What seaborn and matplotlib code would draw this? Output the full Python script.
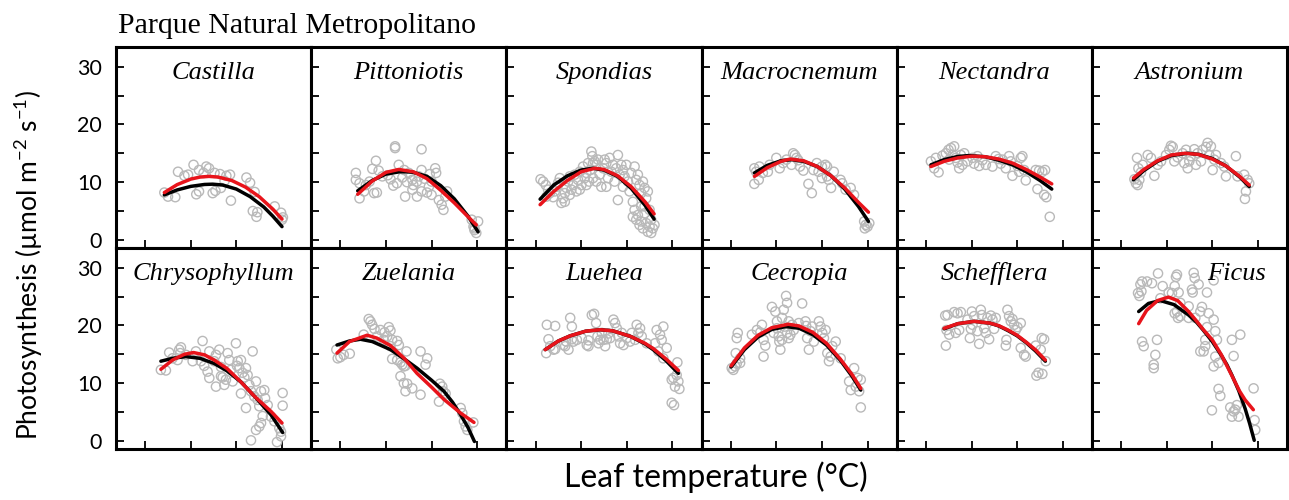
import matplotlib
matplotlib.use("Agg")
import matplotlib.pyplot as plt
import seaborn as sns

# ---------------------------------------------------------------- data
# Leaf temperature (degC) and net photosynthesis (umol m-2 s-1) per genus,
# plus two fitted response curves (black and red) for each.

castilla_t = [27.1, 27.5, 28.3, 28.6, 29.3, 29.7, 30.3, 30.6, 30.9, 30.9, 31.7, 32.0, 32.4, 32.7, 32.6, 33.2,
              33.3, 33.9, 34.3, 34.4, 36.1, 36.5, 37.0, 36.8, 37.2, 37.3, 39.2, 39.9, 40.0, 40.1, 31.4, 33.7]
castilla_a = [8.2, 7.5, 7.4, 11.8, 11.1, 11.3, 13.0, 7.9, 8.4, 12.1, 12.7, 12.4, 8.1, 8.5, 11.6, 11.4,
              9.0, 11.1, 11.3, 6.8, 10.8, 9.9, 8.3, 5.0, 4.0, 4.8, 5.8, 4.7, 3.5, 3.9, 11.6, 10.2]
castilla_bt = [27.1, 28.5, 30.0, 31.5, 32.4, 33.5, 35.0, 36.5, 38.0, 39.0, 40.0]
castilla_black = [7.8, 8.65, 9.27, 9.6, 9.65, 9.5, 8.8, 7.5, 5.7, 4.1, 2.3]
castilla_rt = [27.1, 28.5, 30.0, 31.0, 32.0, 33.0, 34.5, 36.0, 37.5, 39.0, 40.0]
castilla_red = [8.2, 9.57, 10.53, 10.88, 11.0, 10.88, 10.28, 9.14, 7.49, 5.32, 3.6]

pittoniotis_t = [26.7, 26.7, 27.1, 27.1, 27.6, 27.8, 28.2, 28.9, 28.5, 29.2, 29.0, 28.7, 31.0, 31.0, 31.4, 32.0,
                 32.5, 32.9, 33.0, 33.4, 33.6, 33.9, 33.9, 32.1, 33.4, 32.9, 33.9, 34.5, 34.7, 35.0, 35.4, 35.5,
                 35.0, 35.8, 36.1, 36.3, 36.5, 36.7, 39.4, 39.6, 39.7, 39.9, 40.1, 39.7, 30.5, 31.2, 31.8, 30.2,
                 32.3, 34.2, 34.8, 30.8, 29.6]
pittoniotis_a = [11.6, 10.4, 9.8, 7.2, 8.4, 9.5, 10.1, 13.7, 12.3, 12.0, 8.2, 8.1, 16.2, 15.9, 13.0, 12.1,
                 11.6, 10.4, 9.5, 10.1, 11.0, 12.1, 15.7, 7.5, 7.5, 8.7, 8.4, 8.2, 9.2, 7.8, 12.4, 11.6,
                 10.1, 6.9, 6.1, 5.2, 7.5, 8.4, 3.5, 2.3, 1.7, 1.2, 3.2, 2.0, 10.5, 9.8, 10.8, 11.2,
                 10.0, 10.6, 11.4, 9.4, 11.0]
pittoniotis_bt = [26.9, 28.5, 30.0, 31.5, 32.2, 33.0, 34.5, 36.0, 37.5, 39.0, 40.1]
pittoniotis_black = [8.5, 10.3, 11.4, 11.8, 11.8, 11.7, 11.0, 9.4, 7.1, 4.1, 1.4]
pittoniotis_rt = [26.9, 28.5, 30.0, 31.4, 33.0, 34.5, 36.0, 37.5, 39.0, 39.9]
pittoniotis_red = [7.9, 10.2, 11.7, 12.2, 11.8, 10.6, 8.6, 6.4, 4.0, 2.6]

spondias_t = [25.55, 25.84, 26.13, 26.38, 26.57, 26.20, 26.93, 27.11, 27.30, 27.48,
              27.66, 27.84, 28.02, 28.21, 28.39, 28.57, 28.75, 28.93, 29.12, 29.30,
              29.48, 29.66, 29.85, 30.03, 30.21, 30.39, 30.57, 30.76, 30.87, 31.01,
              31.12, 31.23, 31.30, 31.48, 31.67, 31.85, 32.03, 32.21, 32.40, 32.58,
              32.76, 32.94, 33.12, 33.31, 33.49, 33.67, 33.85, 34.03, 34.03, 34.22,
              34.40, 34.58, 34.76, 34.95, 35.13, 35.31, 35.49, 35.67, 35.86, 36.04,
              36.22, 36.40, 36.58, 36.77, 36.95, 37.13, 37.31, 35.67, 35.86, 36.04,
              36.22, 36.40, 36.58, 36.77, 36.95, 37.13, 37.31, 37.50, 37.68, 37.86,
              38.04, 37.68, 36.95, 36.58, 37.50, 31.30, 30.57, 29.85, 28.75, 28.21,
              32.76, 31.67, 34.58]
spondias_a = [10.5, 10.1, 9.5, 8.7, 8.1, 7.5, 7.4, 8.4, 9.2, 9.9,
              10.7, 6.4, 7.2, 8.1, 9.0, 10.1, 11.0, 8.7, 9.5, 11.3,
              8.4, 10.4, 11.8, 9.5, 12.7, 10.7, 11.6, 13.3, 10.1, 12.1,
              15.3, 14.5, 13.3, 13.6, 13.0, 13.9, 11.3, 9.2, 12.4, 13.9,
              13.3, 10.7, 14.2, 11.8, 13.0, 10.1, 12.4, 14.7, 6.9, 11.3,
              13.0, 12.1, 11.0, 13.0, 10.1, 8.4, 11.6, 6.6, 12.7, 10.4,
              11.3, 9.5, 8.1, 10.1, 9.0, 7.2, 8.4, 4.0, 5.2, 3.5,
              4.3, 2.6, 3.2, 2.0, 4.6, 2.9, 1.4, 2.3, 3.5, 2.0,
              2.6, 1.2, 5.8, 5.8, 5.2, 10.7, 9.5, 8.7, 7.8, 6.6,
              9.2, 10.1, 9.2]
spondias_bt = [25.5, 27.0, 28.5, 30.0, 31.3, 32.5, 34.0, 35.5, 37.0, 38.0]
spondias_black = [7.05, 9.5, 11.1, 12.1, 12.4, 12.1, 11.0, 8.9, 6.0, 3.6]
spondias_rt = [25.5, 27.0, 28.5, 30.0, 31.5, 32.5, 34.0, 35.5, 37.0, 38.0]
spondias_red = [6.1, 8.4, 10.3, 11.8, 12.4, 12.2, 11.1, 9.2, 6.6, 4.5]

macrocnemum_t = [27.59, 27.78, 28.15, 27.59, 28.07, 28.52, 29.07, 29.26, 30.0, 30.37,
                 30.74, 31.11, 31.67, 31.85, 32.04, 32.22, 32.41, 32.59, 32.96, 33.52,
                 33.89, 34.07, 34.44, 35.0, 35.37, 35.56, 35.74, 36.0, 36.30, 37.04,
                 37.22, 37.59, 38.15, 38.52, 39.63, 39.70, 39.81, 40.0, 40.19, 35.0,
                 34.63, 35.56]
macrocnemum_a = [12.4, 11.8, 12.7, 9.7, 10.4, 11.6, 11.8, 13.0, 14.2, 12.4,
                 13.3, 13.9, 13.0, 15.0, 14.7, 14.2, 13.8, 12.7, 12.0, 9.7,
                 8.1, 12.1, 13.3, 12.7, 13.0, 11.0, 10.4, 9.0, 11.8, 10.4,
                 9.8, 8.7, 9.0, 7.8, 3.2, 2.0, 2.6, 2.3, 2.9, 10.7,
                 11.8, 12.7]
macrocnemum_bt = [27.6, 29.0, 30.5, 31.7, 33.0, 34.5, 36.0, 37.5, 39.0, 40.1]
macrocnemum_black = [11.6, 12.9, 13.7, 13.9, 13.6, 12.7, 11.1, 8.8, 5.8, 3.2]
macrocnemum_rt = [27.6, 29.0, 30.5, 31.5, 33.0, 34.5, 36.0, 37.5, 39.0, 40.1]
macrocnemum_red = [11.0, 12.5, 13.6, 14.0, 13.7, 12.7, 11.1, 9.0, 6.5, 4.8]

nectandra_t = [25.55, 25.91, 26.09, 26.39, 26.82, 27.19, 27.48, 27.74, 27.92, 28.10,
               28.28, 28.47, 28.65, 28.83, 29.01, 30.11, 30.29, 30.66, 30.84, 31.57,
               32.66, 32.96, 33.21, 33.76, 34.12, 34.31, 34.49, 35.04, 35.40, 35.58,
               35.77, 35.95, 37.04, 37.23, 37.41, 37.77, 38.07, 37.96, 38.21, 38.58,
               29.56, 31.20, 32.30, 33.39, 35.22, 27.55, 29.20]
nectandra_a = [13.6, 12.4, 14.2, 11.7, 14.6, 15.0, 15.6, 15.9, 14.7, 16.2,
               14.2, 13.4, 12.4, 14.7, 13.0, 14.2, 13.2, 14.5, 12.8, 13.0,
               14.5, 14.0, 13.2, 12.4, 14.5, 13.6, 11.1, 12.8, 14.2, 14.5,
               12.1, 10.3, 12.1, 8.8, 12.0, 11.8, 12.1, 7.8, 7.4, 4.0,
               13.6, 13.8, 12.7, 13.9, 11.8, 13.9, 15.0]
nectandra_bt = [25.55, 27.0, 28.5, 29.7, 31.5, 33.0, 34.5, 36.0, 37.5, 38.8]
nectandra_black = [13.0, 13.9, 14.45, 14.6, 14.4, 13.8, 13.0, 11.8, 10.3, 8.8]
nectandra_rt = [25.55, 27.0, 28.5, 30.0, 31.5, 33.0, 34.5, 36.0, 37.5, 38.8]
nectandra_red = [12.7, 13.6, 14.2, 14.5, 14.4, 14.0, 13.3, 12.2, 10.9, 9.7]

astronium_t = [26.46, 26.64, 26.82, 27.0, 26.75, 26.90, 27.19, 27.37, 27.92, 28.28,
               28.65, 29.01, 29.38, 29.93, 30.29, 30.47, 30.66, 30.84, 31.20, 31.75,
               31.93, 32.12, 32.30, 32.48, 32.66, 33.03, 33.21, 33.39, 33.76, 33.94,
               34.31, 34.49, 34.67, 34.85, 35.04, 35.22, 35.40, 35.95, 36.31, 36.50,
               37.59, 37.77, 38.50, 38.69, 38.58, 38.87, 39.05]
astronium_a = [10.5, 9.8, 9.5, 10.4, 14.2, 12.4, 11.7, 13.0, 14.7, 14.2,
               11.1, 13.0, 13.6, 14.7, 15.6, 16.3, 16.1, 13.6, 14.3, 15.0,
               13.3, 15.6, 12.4, 13.6, 14.5, 15.7, 13.0, 15.0, 13.6, 15.6,
               16.1, 16.8, 14.7, 16.2, 12.1, 13.9, 14.7, 13.3, 12.7, 11.0,
               14.5, 11.0, 11.3, 8.4, 7.1, 10.4, 9.8]
astronium_bt = [26.35, 27.5, 29.0, 30.5, 32.3, 33.5, 35.0, 36.5, 38.0, 39.05]
astronium_black = [10.4, 12.0, 13.6, 14.6, 15.0, 14.8, 14.1, 12.8, 10.9, 9.25]
astronium_rt = [26.35, 27.5, 29.0, 30.5, 32.0, 33.5, 35.0, 36.5, 38.0, 39.05]
astronium_red = [10.7, 12.2, 13.7, 14.7, 15.0, 14.8, 14.0, 12.8, 11.0, 9.5]

chrysophyllum_t = [26.72, 27.27, 27.63, 28.0, 28.55, 28.73, 28.92, 28.84, 29.46, 30.20,
                   30.56, 31.29, 31.47, 31.84, 32.03, 32.03, 32.57, 32.76, 33.12, 33.31,
                   33.49, 33.67, 33.85, 34.04, 34.22, 34.40, 34.59, 34.95, 35.06, 35.14,
                   35.32, 35.50, 35.68, 35.87, 36.05, 36.23, 36.42, 35.50, 36.05, 36.60,
                   36.78, 36.96, 37.15, 37.33, 37.51, 37.70, 37.88, 37.70, 38.06, 38.14,
                   37.51, 37.15, 36.60, 38.43, 38.79, 39.16, 39.45, 39.89, 40.07, 40.07,
                   39.71, 39.89, 33.31, 31.11, 32.76]
chrysophyllum_a = [12.3, 12.2, 15.3, 14.3, 14.0, 15.8, 16.2, 15.2, 14.9, 13.8,
                   15.5, 17.3, 13.0, 12.0, 10.9, 15.5, 13.8, 14.9, 15.8, 12.8,
                   11.0, 9.7, 10.6, 15.2, 14.0, 12.3, 10.3, 16.9, 13.0, 13.8,
                   12.6, 14.0, 11.8, 11.0, 12.6, 11.4, 9.7, 8.2, 5.7, 8.6,
                   15.5, 7.7, 10.3, 7.1, 6.0, 8.6, 4.3, 3.1, 8.8, 7.4,
                   2.5, 1.9, 0.1, 6.2, 4.2, 3.4, -0.2, 1.6, 8.3, 6.1,
                   2.2, 0.8, 11.2, 13.8, 9.4]
chrysophyllum_bt = [26.72, 28.0, 29.46, 31.0, 32.57, 34.0, 35.5, 37.0, 38.8, 40.07]
chrysophyllum_black = [13.8, 14.3, 14.6, 14.3, 13.4, 12.1, 10.2, 7.7, 4.5, 1.45]
chrysophyllum_rt = [26.72, 28.0, 29.3, 30.3, 31.5, 32.57, 34.0, 35.5, 37.0, 38.8, 40.0]
chrysophyllum_red = [12.4, 14.0, 15.0, 15.3, 14.9, 14.0, 12.5, 10.2, 7.7, 5.1, 3.1]

zuelania_t = [24.56, 24.71, 25.0, 25.37, 26.03, 27.56, 28.11, 28.30, 28.48, 28.74,
              29.40, 29.84, 30.31, 30.49, 30.13, 30.68, 31.23, 31.41, 30.68, 31.23,
              31.59, 31.78, 31.96, 32.14, 32.25, 31.59, 31.96, 32.33, 32.14, 32.88,
              33.79, 33.79, 34.34, 34.52, 35.92, 36.17, 36.28, 36.54, 35.81, 38.19,
              38.37, 38.55, 38.74, 39.58, 38.92, 29.76, 29.03, 30.49]
zuelania_a = [15.8, 14.3, 14.5, 14.9, 15.1, 18.4, 21.1, 20.7, 20.1, 19.4,
              19.2, 18.8, 19.7, 19.1, 18.1, 17.5, 17.3, 16.6, 14.2, 14.0,
              13.6, 13.2, 12.9, 13.0, 15.5, 11.2, 10.0, 9.9, 8.6, 9.1,
              8.0, 15.5, 13.2, 14.3, 9.9, 9.4, 8.6, 8.2, 6.8, 5.7,
              4.8, 3.4, 2.5, 3.2, 1.9, 17.5, 18.1, 16.4]
zuelania_bt = [24.63, 26.0, 27.2, 28.5, 30.5, 32.0, 33.4, 35.0, 36.35, 37.3, 38.2, 39.0, 39.7]
zuelania_black = [16.6, 17.3, 17.6, 17.2, 15.8, 14.2, 12.6, 10.5, 8.6, 6.7, 4.5, 2.3, -0.1]
zuelania_rt = [24.63, 26.0, 27.93, 29.0, 30.5, 32.0, 33.4, 35.0, 36.35, 38.2, 39.65]
zuelania_red = [15.2, 17.2, 18.3, 17.8, 16.5, 14.3, 11.7, 9.3, 7.2, 4.8, 3.2]

luehea_t = [26.17, 26.24, 26.42, 26.61, 26.97, 27.15, 27.15, 28.07, 28.25, 28.36,
            28.61, 28.80, 28.98, 28.98, 29.16, 29.53, 30.07, 30.62, 30.80, 30.80,
            31.17, 31.42, 31.64, 31.79, 31.90, 32.08, 32.26, 32.45, 32.63, 32.81,
            32.99, 33.18, 33.54, 33.72, 33.91, 34.09, 34.27, 34.45, 34.64, 35.0,
            35.36, 35.55, 35.91, 36.09, 36.28, 36.46, 36.64, 38.10, 38.28, 38.47,
            38.65, 38.83, 39.01, 39.38, 39.93, 40.11, 40.29, 40.47, 40.55, 40.66,
            40.77, 39.93, 40.18, 39.01, 37.19]
luehea_a = [15.2, 20.1, 17.6, 16.4, 15.8, 19.9, 15.9, 16.6, 16.4, 17.2,
            15.8, 21.3, 19.8, 17.6, 17.2, 17.5, 17.8, 16.6, 17.4, 16.4,
            21.8, 22.0, 20.4, 18.1, 16.9, 17.5, 18.7, 17.5, 16.4, 17.6,
            18.6, 17.8, 21.0, 20.4, 19.5, 18.1, 16.9, 18.7, 16.6, 17.8,
            17.2, 18.7, 17.5, 20.1, 18.7, 19.5, 18.1, 16.9, 19.2, 15.5,
            18.4, 17.5, 19.8, 16.1, 10.6, 10.9, 9.4, 11.4, 13.6, 10.3,
            9.0, 6.6, 6.2, 14.3, 16.9]
luehea_bt = [26.06, 27.5, 28.8, 30.5, 32.08, 33.5, 35.4, 37.0, 37.9, 39.3, 40.66]
luehea_black = [15.8, 17.3, 18.2, 19.0, 19.25, 19.05, 18.1, 16.8, 15.8, 13.9, 11.7]
luehea_rt = [26.06, 27.5, 28.8, 30.5, 32.08, 33.5, 35.4, 37.0, 37.9, 39.3, 40.66]
luehea_red = [15.8, 17.3, 18.2, 19.0, 19.25, 19.05, 18.1, 16.9, 16.0, 14.2, 12.2]

cecropia_t = [25.11, 25.29, 25.48, 25.66, 25.55, 25.66, 25.77, 26.03, 26.03, 27.32,
              27.87, 28.24, 28.42, 28.60, 28.79, 28.60, 29.52, 29.89, 29.71, 30.07,
              30.26, 30.33, 30.44, 30.63, 30.81, 31.07, 31.18, 30.92, 31.18, 31.36,
              31.54, 31.73, 31.36, 31.91, 32.83, 33.20, 33.27, 33.38, 33.57, 33.75,
              34.12, 34.67, 34.85, 35.04, 35.22, 35.40, 35.59, 35.77, 35.96, 36.14,
              36.51, 37.06, 37.98, 38.16, 38.53, 38.71, 38.90, 39.08, 39.26, 39.26,
              30.07, 32.46, 33.93, 30.63]
cecropia_a = [12.6, 12.3, 12.9, 13.4, 15.2, 17.8, 18.7, 13.5, 14.3, 18.4,
              19.2, 18.8, 20.1, 14.6, 16.5, 17.5, 23.2, 22.4, 18.7, 20.7,
              18.1, 17.2, 15.8, 21.3, 22.7, 25.1, 23.9, 19.8, 18.7, 20.7,
              18.4, 20.1, 17.8, 19.2, 23.8, 20.7, 19.9, 17.8, 15.8, 19.0,
              17.2, 20.7, 19.8, 18.7, 17.8, 19.2, 15.2, 13.8, 14.6, 16.4,
              17.2, 14.3, 10.3, 8.8, 12.6, 9.4, 10.9, 8.6, 10.6, 5.8,
              19.5, 20.4, 19.8, 17.5]
cecropia_bt = [25.04, 26.5, 28.0, 29.5, 31.07, 32.5, 34.0, 35.5, 37.0, 38.3, 39.26]
cecropia_black = [12.8, 15.8, 18.0, 19.3, 19.8, 19.5, 18.4, 16.6, 14.0, 11.2, 8.8]
cecropia_rt = [25.04, 26.5, 28.0, 29.5, 31.3, 32.5, 34.0, 35.5, 37.0, 38.3, 39.26]
cecropia_red = [13.0, 16.1, 18.3, 19.6, 20.2, 19.9, 18.8, 16.9, 14.2, 11.5, 9.1]

schefflera_t = [27.12, 27.37, 27.26, 27.55, 28.10, 28.28, 28.47, 28.65, 28.83, 27.19,
                29.56, 29.82, 29.93, 30.04, 30.11, 30.29, 30.66, 30.84, 31.02, 31.13,
                31.39, 31.57, 31.93, 32.12, 32.30, 32.48, 33.76, 33.94, 33.83, 34.12,
                34.31, 34.49, 34.67, 34.85, 35.04, 35.40, 35.40, 35.77, 35.95, 37.04,
                37.12, 37.34, 37.70, 37.77, 37.96, 38.14, 37.59, 32.66, 31.75]
schefflera_a = [21.7, 21.8, 19.2, 18.4, 22.3, 18.7, 22.1, 19.2, 22.3, 16.5,
                21.0, 17.8, 19.4, 22.4, 20.1, 21.6, 19.0, 16.8, 22.7, 21.8,
                19.5, 18.7, 17.6, 21.7, 21.0, 19.4, 16.5, 22.7, 17.5, 21.6,
                20.7, 21.1, 20.1, 19.2, 19.7, 20.4, 16.1, 14.9, 14.6, 16.5,
                11.3, 11.8, 17.8, 11.6, 17.6, 13.8, 15.8, 21.3, 21.3]
schefflera_bt = [27.0, 28.5, 30.3, 32.0, 33.0, 34.0, 35.0, 36.0, 37.0, 38.1]
schefflera_black = [19.4, 20.3, 20.7, 20.4, 19.9, 19.1, 18.2, 17.0, 15.6, 13.8]
schefflera_rt = [27.0, 28.5, 30.3, 32.0, 33.0, 34.0, 35.0, 36.0, 37.0, 38.1]
schefflera_red = [19.5, 20.3, 20.7, 20.4, 19.95, 19.2, 18.3, 17.1, 15.8, 14.0]

ficus_t = [26.86, 27.01, 27.12, 27.30, 27.23, 27.85, 28.39, 29.05, 29.31, 29.56,
           30.22, 30.58, 30.88, 31.02, 31.13, 31.31, 31.13, 30.88, 31.24, 31.50,
           31.50, 32.41, 32.77, 32.85, 32.96, 33.07, 33.50, 33.87, 33.69, 34.42,
           34.60, 35.15, 35.15, 34.42, 34.23, 34.05, 33.69, 34.23, 35.33, 35.51,
           35.33, 35.15, 35.69, 27.30, 27.48, 28.94, 28.76, 28.58, 28.58, 37.15,
           37.34, 38.07, 35.69, 35.88, 34.96, 36.97, 37.34, 37.15, 37.52, 37.70,
           37.88, 39.53, 39.64, 39.71, 33.14, 32.41]
ficus_a = [25.6, 25.1, 27.1, 27.6, 25.9, 27.6, 27.3, 29.0, 24.7, 26.8,
           25.7, 25.6, 26.8, 28.4, 28.8, 25.7, 22.4, 22.1, 21.3, 21.6,
           23.9, 21.3, 26.2, 25.7, 29.1, 28.2, 27.1, 23.2, 22.4, 25.7,
           22.1, 27.8, 21.0, 19.7, 17.5, 15.5, 15.5, 16.4, 19.0, 17.5,
           14.6, 12.9, 13.5, 17.2, 16.4, 17.5, 14.9, 13.2, 12.6, 17.5,
           14.7, 18.4, 9.0, 7.8, 5.3, 5.8, 5.1, 4.2, 5.4, 6.2,
           4.2, 9.1, 3.6, 1.9, 21.3, 23.3]
ficus_bt = [26.93, 28.0, 29.3, 30.8, 32.4, 33.3, 34.0, 35.0, 36.0, 36.6, 37.15, 37.9, 38.6, 39.1, 39.6]
ficus_black = [22.4, 23.8, 24.3, 23.6, 21.8, 20.5, 19.2, 17.2, 14.8, 13.2, 11.4, 8.7, 5.6, 3.0, 0.1]
ficus_rt = [26.93, 27.8, 29.0, 30.2, 31.2, 32.4, 33.2, 34.0, 35.0, 36.0, 37.15, 38.0, 38.6, 39.5]
ficus_red = [20.3, 22.6, 24.3, 24.9, 24.3, 22.4, 20.9, 19.3, 17.5, 14.9, 11.3, 8.6, 7.1, 5.4]

site_name = "Parque Natural Metropolitano"
y_ticks = [0, 5, 10, 15, 20, 25, 30]
y_tick_labels = ["0", "", "10", "", "20", "", "30"]
x_ticks = [25, 30, 35, 40]

panels = [
    ("Castilla", castilla_t, castilla_a, castilla_bt, castilla_black, castilla_rt, castilla_red),
    ("Pittoniotis", pittoniotis_t, pittoniotis_a, pittoniotis_bt, pittoniotis_black, pittoniotis_rt, pittoniotis_red),
    ("Spondias", spondias_t, spondias_a, spondias_bt, spondias_black, spondias_rt, spondias_red),
    ("Macrocnemum", macrocnemum_t, macrocnemum_a, macrocnemum_bt, macrocnemum_black, macrocnemum_rt, macrocnemum_red),
    ("Nectandra", nectandra_t, nectandra_a, nectandra_bt, nectandra_black, nectandra_rt, nectandra_red),
    ("Astronium", astronium_t, astronium_a, astronium_bt, astronium_black, astronium_rt, astronium_red),
    ("Chrysophyllum", chrysophyllum_t, chrysophyllum_a, chrysophyllum_bt, chrysophyllum_black, chrysophyllum_rt, chrysophyllum_red),
    ("Zuelania", zuelania_t, zuelania_a, zuelania_bt, zuelania_black, zuelania_rt, zuelania_red),
    ("Luehea", luehea_t, luehea_a, luehea_bt, luehea_black, luehea_rt, luehea_red),
    ("Cecropia", cecropia_t, cecropia_a, cecropia_bt, cecropia_black, cecropia_rt, cecropia_red),
    ("Schefflera", schefflera_t, schefflera_a, schefflera_bt, schefflera_black, schefflera_rt, schefflera_red),
    ("Ficus", ficus_t, ficus_a, ficus_bt, ficus_black, ficus_rt, ficus_red),
]

# ---------------------------------------------------------------- style
sns.set_style("ticks")
plt.rcParams["font.family"] = ["Lato", "DejaVu Sans"]
plt.rcParams["mathtext.fontset"] = "custom"
plt.rcParams["mathtext.rm"] = "Lato"
plt.rcParams["text.color"] = "black"
plt.rcParams["axes.labelcolor"] = "black"
plt.rcParams["xtick.color"] = "black"
plt.rcParams["ytick.color"] = "black"

POINT_GREY = "#b9b9b9"
RED = "#e8141b"
SERIF = ["Liberation Serif", "DejaVu Serif"]

fig, axes = plt.subplots(2, 6, figsize=(12.89, 5.0), dpi=100)
fig.subplots_adjust(left=0.09, right=0.9985, top=0.906, bottom=0.102, wspace=0, hspace=0)

for idx, (name, t, a, bt, black, rt, red) in enumerate(panels):
    ax = axes.flat[idx]
    sns.scatterplot(x=t, y=a, ax=ax, marker="o", s=44, facecolor="none",
                    edgecolor=POINT_GREY, linewidth=1.0, zorder=2)
    sns.lineplot(x=bt, y=black, ax=ax, color="black", linewidth=2.5,
                 sort=False, estimator=None, zorder=3)
    sns.lineplot(x=rt, y=red, ax=ax, color=RED, linewidth=2.5,
                 sort=False, estimator=None, zorder=4)

    ax.set_xlim(21.8, 43.2)
    ax.set_ylim(-1.4, 33.4)
    ax.set_xticks(x_ticks)
    ax.set_xticklabels([])
    ax.set_yticks(y_ticks)
    if idx % 6 == 0:
        ax.set_yticklabels(y_tick_labels, fontsize=15.5, color="black")
    else:
        ax.set_yticklabels([])
    ax.tick_params(axis="both", direction="in", length=6, width=1.3,
                   color="black", pad=10, top=False, right=False)
    ax.set_xlabel("")
    ax.set_ylabel("")
    for side in ("left", "right", "top", "bottom"):
        ax.spines[side].set_visible(True)
        ax.spines[side].set_linewidth(2.2)
        ax.spines[side].set_color("black")

    title_x = 0.74 if name == "Ficus" else 0.5
    ax.text(title_x, 0.84, name, transform=ax.transAxes, ha="center", va="baseline",
            fontsize=19, fontstyle="italic", family=SERIF, color="black", zorder=5)

fig.text(0.0915, 0.934, site_name, ha="left", va="baseline", fontsize=21.5,
         family=SERIF, color="black")
fig.text(0.022, 0.47, r"Photosynthesis (µmol m$^{\mathregular{-2}}$ s$^{\mathregular{-1}}$)",
         rotation=90, ha="center", va="center", fontsize=19, color="black")
fig.text(0.555, 0.045, "Leaf temperature (°C)", ha="center", va="center",
         fontsize=23, color="black")

fig.savefig("out.png", dpi=100)
